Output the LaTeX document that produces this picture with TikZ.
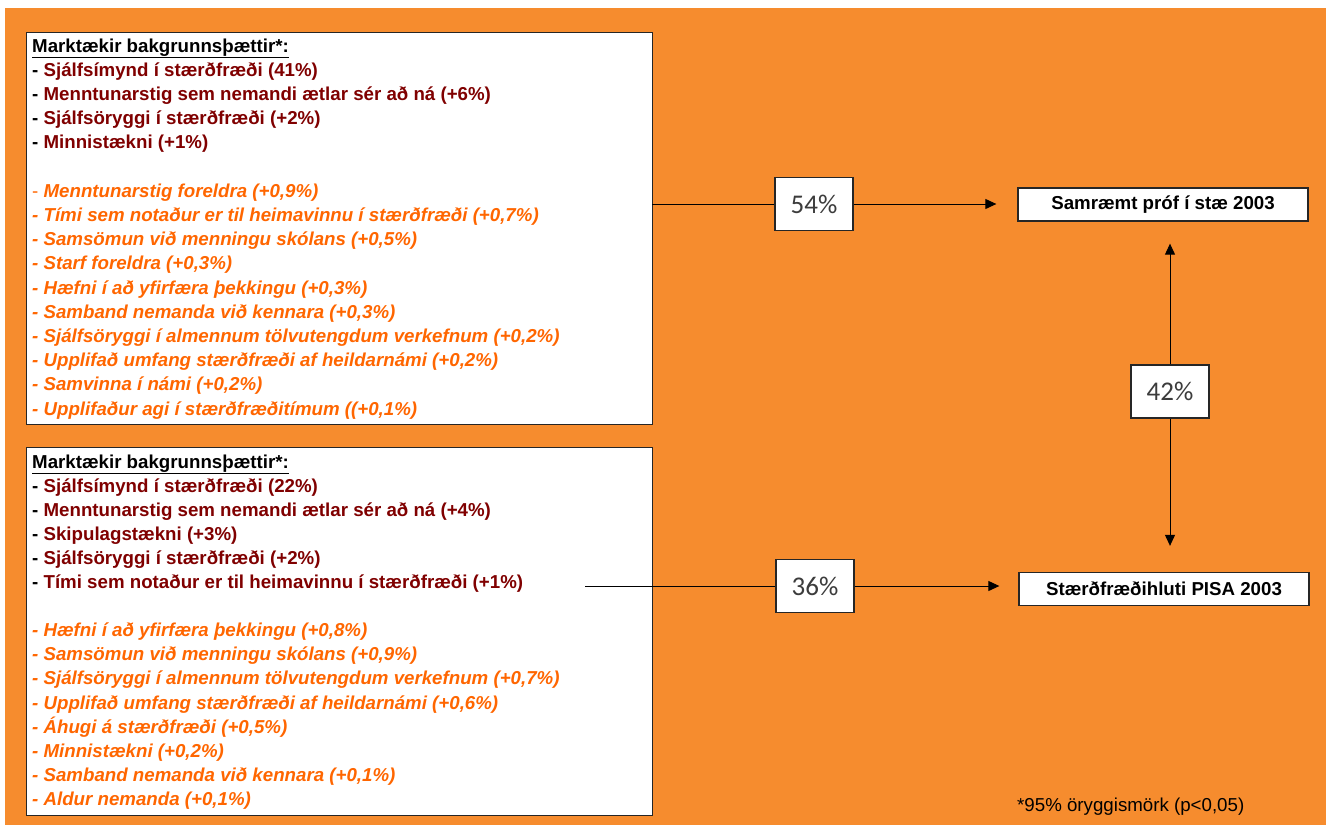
\documentclass[tikz,border=0pt]{standalone}
\usepackage{fontspec}
\setmainfont{Liberation Sans}
\newfontfamily\pctfont{Carlito}
\usetikzlibrary{arrows.meta}
\definecolor{bgorange}{RGB}{246,140,46}
\definecolor{dred}{RGB}{128,0,0}
\definecolor{otext}{RGB}{255,102,0}
\definecolor{pctgray}{RGB}{60,60,60}
\tikzset{
  panel/.style={draw=black!85, fill=white, line width=1.3pt},
  pct/.style={draw=black!85, fill=white, line width=1.5pt, minimum width=78pt, minimum height=53pt, inner sep=0pt, text=pctgray, font=\pctfont\fontsize{27}{30}\selectfont},
  target/.style={draw=black!85, fill=white, line width=1.3pt, minimum width=290pt, minimum height=33pt, inner sep=0pt, font=\bfseries\fontsize{18.7}{22}\selectfont},
  txt/.style={anchor=base west, inner sep=0pt, font=\bfseries\fontsize{18.7}{22}\selectfont},
  rtxt/.style={txt, text=dred},
  otxt/.style={txt, text=otext, font=\bfseries\itshape\fontsize{18.7}{22}\selectfont},
  conn/.style={draw=black, line width=1pt},
  tip/.style={-{Triangle[length=11pt,width=10pt]}},
}
\newcommand{\bd}{{\color{black}-} }
\begin{document}
\begin{tikzpicture}[x=1pt,y=-1pt]
\useasboundingbox (0,0) rectangle (1326,825);
\fill[white] (0,0) rectangle (1326,825);
\fill[bgorange] (5,8) rectangle (1326,825);

% panels
\node[panel, anchor=north west, minimum width=626pt, minimum height=392pt, inner sep=0pt] (top) at (26,32) {};
\node[panel, anchor=north west, minimum width=626pt, minimum height=368pt, inner sep=0pt] (bot) at (26,447) {};

% top panel text
\node[txt] (ta0) at (32,52) {\underline{Marktækir bakgrunnsþættir*:}};
\node[rtxt] (ta1) at (32,76.2) {\bd Sjálfsímynd í stærðfræði (41\%)};
\node[rtxt] (ta2) at (32,100.4) {\bd Menntunarstig sem nemandi ætlar sér að ná (+6\%)};
\node[rtxt] (ta3) at (32,124.6) {\bd Sjálfsöryggi í stærðfræði (+2\%)};
\node[rtxt] (ta4) at (32,148.8) {\bd Minnistækni (+1\%)};
\node[otxt] (ta5) at (32,197.2) {{\upshape\mdseries -} Menntunarstig foreldra (+0,9\%)};
\node[otxt] (ta6) at (32,221.4) {- Tími sem notaður er til heimavinnu í stærðfræði (+0,7\%)};
\node[otxt] (ta7) at (32,245.6) {- Samsömun við menningu skólans (+0,5\%)};
\node[otxt] (ta8) at (32,269.8) {- Starf foreldra (+0,3\%)};
\node[otxt] (ta9) at (32,294) {- Hæfni í að yfirfæra þekkingu (+0,3\%)};
\node[otxt] (ta10) at (32,318.2) {- Samband nemanda við kennara (+0,3\%)};
\node[otxt] (ta11) at (32,342.4) {- Sjálfsöryggi í almennum tölvutengdum verkefnum (+0,2\%)};
\node[otxt] (ta12) at (32,366.6) {- Upplifað umfang stærðfræði af heildarnámi (+0,2\%)};
\node[otxt] (ta13) at (32,390.8) {- Samvinna í námi (+0,2\%)};
\node[otxt] (ta14) at (32,415) {- Upplifaður agi í stærðfræðitímum ((+0,1\%)};

% bottom panel text
\node[txt] (tb0) at (32,468) {\underline{Marktækir bakgrunnsþættir*:}};
\node[rtxt] (tb1) at (32,492.1) {\bd Sjálfsímynd í stærðfræði (22\%)};
\node[rtxt] (tb2) at (32,516.2) {\bd Menntunarstig sem nemandi ætlar sér að ná (+4\%)};
\node[rtxt] (tb3) at (32,540.3) {\bd Skipulagstækni (+3\%)};
\node[rtxt] (tb4) at (32,564.4) {\bd Sjálfsöryggi í stærðfræði (+2\%)};
\node[rtxt] (tb5) at (32,588.5) {\bd Tími sem notaður er til heimavinnu í stærðfræði (+1\%)};
\node[otxt] (tb6) at (32,636.7) {- Hæfni í að yfirfæra þekkingu (+0,8\%)};
\node[otxt] (tb7) at (32,660.8) {- Samsömun við menningu skólans (+0,9\%)};
\node[otxt] (tb8) at (32,684.9) {- Sjálfsöryggi í almennum tölvutengdum verkefnum (+0,7\%)};
\node[otxt] (tb9) at (32,709) {- Upplifað umfang stærðfræði af heildarnámi (+0,6\%)};
\node[otxt] (tb10) at (32,733.1) {- Áhugi á stærðfræði (+0,5\%)};
\node[otxt] (tb11) at (32,757.2) {- Minnistækni (+0,2\%)};
\node[otxt] (tb12) at (32,781.3) {- Samband nemanda við kennara (+0,1\%)};
\node[otxt] (tb13) at (32,805.4) {- Aldur nemanda (+0,1\%)};

% targets
\node[target] (samr) at (1163,204.5) {Samræmt próf í stæ 2003};
\node[target] (pisa) at (1164,589) {Stærðfræðihluti PISA 2003};

% percent boxes
\node[pct] (p54) at (814,204) {54\%};
\node[pct] (p36) at (815,586) {36\%};
\node[pct] (p42) at (1170,391.5) {42\%};

% connector start points
\coordinate (c1) at (652,204);
\coordinate (c2) at (585,586);

% connectors
\draw[conn] (c1) -- (p54.west);
\draw[conn, tip, shorten >=21pt] (p54.east) -- (samr.west |- p54.east);
\draw[conn] (c2) -- (p36.west);
\draw[conn, tip, shorten >=19pt] (p36.east) -- (pisa.west |- p36.east);
\draw[conn, tip, shorten >=22pt] (p42.north) -- (p42.north |- samr.south);
\draw[conn, tip, shorten >=26pt] (p42.south) -- (p42.south |- pisa.north);

% footnote
\node[anchor=base west, inner sep=0pt, font=\fontsize{18.7}{22}\selectfont] (fn) at (1017,811) {*95\% öryggismörk (p<0,05)};
\end{tikzpicture}
\end{document}
